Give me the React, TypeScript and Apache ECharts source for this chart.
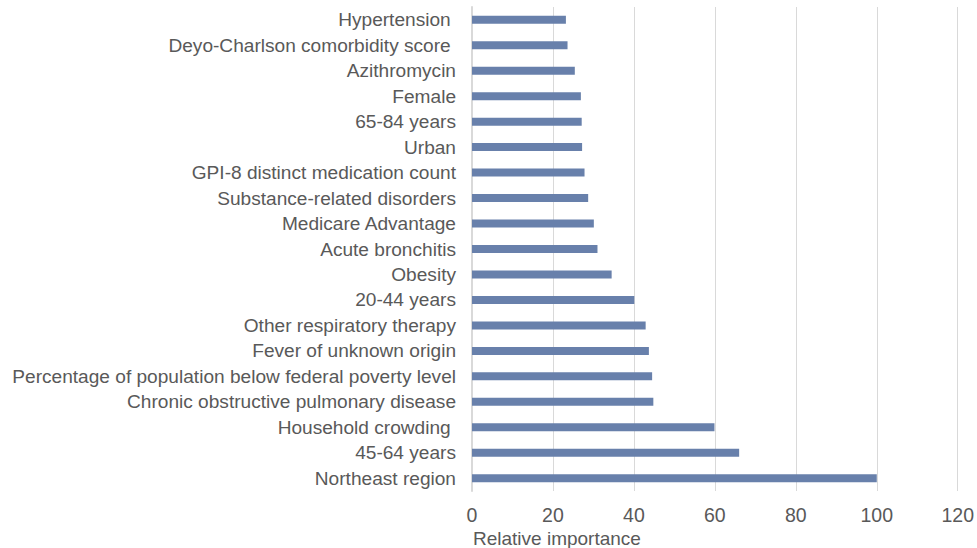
import React, { useEffect, useRef } from "react";
import * as echarts from "echarts";

const categories = [
  "Hypertension ",
  "Deyo-Charlson comorbidity score ",
  "Azithromycin",
  "Female",
  "65-84 years",
  "Urban",
  "GPI-8 distinct medication count",
  "Substance-related disorders",
  "Medicare Advantage",
  "Acute bronchitis",
  "Obesity",
  "20-44 years",
  "Other respiratory therapy",
  "Fever of unknown origin",
  "Percentage of population below federal poverty level",
  "Chronic obstructive pulmonary disease",
  "Household crowding ",
  "45-64 years",
  "Northeast region",
];

const values = [
  23.2, 23.6, 25.4, 26.9, 27.1, 27.2, 27.8, 28.7, 30.1, 31.0,
  34.5, 40.1, 42.9, 43.7, 44.5, 44.8, 59.9, 66.0, 100,
];

const xTicks = { min: 0, max: 120, interval: 20 };

export default function App() {
  const ref = useRef<HTMLDivElement>(null);
  useEffect(() => {
    if (!ref.current) return;
    const chart = echarts.init(ref.current, undefined, { renderer: "svg" });
    const font = "'Liberation Sans', Arial, sans-serif";
    chart.setOption({
      animation: false,
      backgroundColor: "#ffffff",
      grid: { left: 472, right: 18, top: 7, bottom: 57, containLabel: false },
      xAxis: {
        type: "value",
        min: xTicks.min,
        max: xTicks.max,
        interval: xTicks.interval,
        axisLine: { show: false },
        axisTick: { show: false },
        splitLine: { show: true, lineStyle: { color: "#d9d9d9", width: 1 } },
        axisLabel: { color: "#595959", fontSize: 19.5, fontFamily: font, margin: 14 },
      },
      yAxis: {
        type: "category",
        data: categories,
        inverse: true,
        axisLine: { show: true, lineStyle: { color: "#d9d9d9", width: 2 } },
        axisTick: { show: false },
        axisLabel: { color: "#595959", fontSize: 19.1, fontFamily: font, margin: 16 },
      },
      graphic: [
        {
          type: "text",
          left: 473,
          top: 529,
          style: { text: "Relative importance", fill: "#595959", fontSize: 19, fontFamily: font },
        },
      ],
      series: [
        {
          type: "bar",
          data: values,
          barWidth: 8,
          itemStyle: { color: "#6880ab" },
        },
      ],
    });
    return () => chart.dispose();
  }, []);
  return (
    <div
      ref={ref}
      style={{ position: "fixed", left: 0, top: 0, width: 977, height: 548 }}
    />
  );
}
